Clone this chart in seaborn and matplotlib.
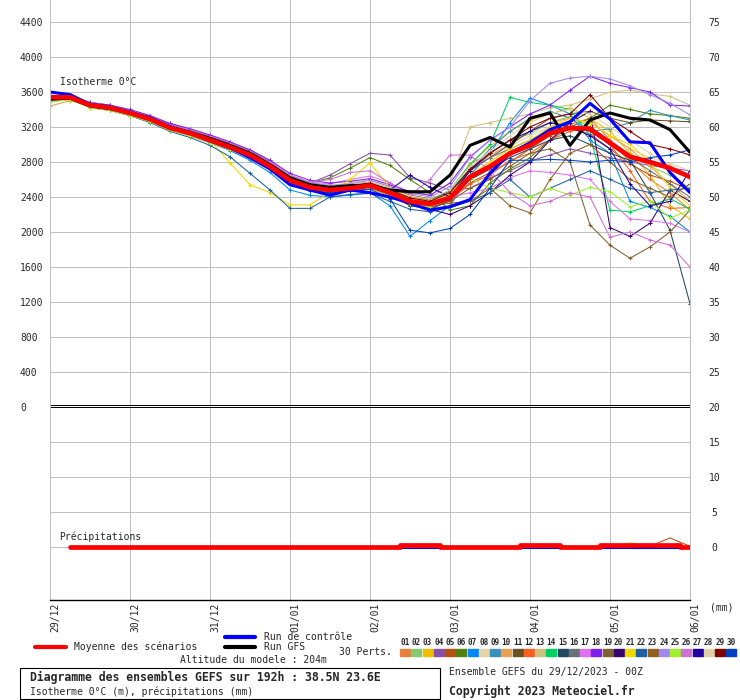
import pandas as pd
import seaborn as sns
import matplotlib.pyplot as plt
from matplotlib.lines import Line2D
from matplotlib.patches import Rectangle

# time axis: every 6h over 192h
hours = [0, 6, 12, 18, 24, 30, 36, 42, 48, 54, 60, 66, 72, 78, 84, 90, 96,
         102, 108, 114, 120, 126, 132, 138, 144, 150, 156, 162, 168, 174,
         180, 186, 192]
day_ticks = [0, 24, 48, 72, 96, 120, 144, 168, 192]
day_labels = ['29/12', '30/12', '31/12', '01/01', '02/01', '03/01', '04/01', '05/01', '06/01']

# isotherme 0°C (m)
mean_iso = [3540, 3540, 3450, 3420, 3360, 3290, 3190, 3130, 3050, 2970, 2880,
            2750, 2590, 2510, 2480, 2500, 2530, 2450, 2350, 2320, 2390, 2630,
            2750, 2900, 2990, 3130, 3190, 3180, 3020, 2860, 2800, 2730, 2630]
ctrl_iso = [3600, 3570, 3460, 3430, 3370, 3300, 3200, 3130, 3040, 2960, 2850,
            2720, 2540, 2480, 2420, 2480, 2450, 2400, 2330, 2250, 2290, 2370,
            2670, 2900, 3020, 3170, 3260, 3470, 3290, 3030, 3020, 2680, 2450]
gfs_iso = [3520, 3530, 3440, 3410, 3360, 3300, 3200, 3140, 3070, 2990, 2900,
           2770, 2620, 2540, 2510, 2530, 2530, 2480, 2460, 2460, 2650, 2990,
           3080, 2970, 3300, 3360, 2990, 3280, 3360, 3300, 3280, 3170, 2910]

p01 = [3520, 3540, 3440, 3400, 3350, 3280, 3170, 3120, 3040, 2960, 2860, 2720, 2560, 2480, 2450, 2470, 2500, 2420, 2300, 2280, 2350, 2600, 2720, 2880, 3000, 3150, 3230, 3300, 3050, 2800, 2600, 2450, 2250]
p02 = [3510, 3530, 3460, 3420, 3370, 3300, 3210, 3150, 3080, 2990, 2900, 2780, 2620, 2530, 2520, 2530, 2560, 2500, 2380, 2340, 2460, 2780, 2900, 3050, 3120, 3250, 3320, 3200, 3000, 2900, 2750, 2650, 2500]
p03 = [3540, 3550, 3470, 3430, 3380, 3310, 3210, 3140, 3060, 2980, 2890, 2770, 2610, 2540, 2500, 2520, 2560, 2490, 2410, 2360, 2470, 2780, 2980, 3150, 3280, 3350, 3420, 3300, 3150, 2900, 2650, 2300, 2150]
p04 = [3550, 3560, 3480, 3450, 3380, 3320, 3230, 3160, 3090, 3010, 2930, 2800, 2640, 2560, 2650, 2780, 2900, 2880, 2620, 2560, 2480, 2500, 2620, 2700, 2810, 2880, 2950, 2900, 2850, 2800, 2760, 2730, 2700]
p05 = [3500, 3530, 3420, 3390, 3330, 3260, 3170, 3100, 3020, 2950, 2860, 2730, 2580, 2500, 2460, 2490, 2510, 2430, 2330, 2310, 2380, 2560, 2680, 2800, 2950, 3100, 3180, 3120, 2950, 2780, 2650, 2580, 2480]
p06 = [3530, 3540, 3450, 3420, 3370, 3300, 3210, 3150, 3070, 3000, 2920, 2800, 2650, 2560, 2620, 2730, 2850, 2760, 2600, 2450, 2250, 2300, 2560, 2720, 2850, 3050, 3200, 3300, 3450, 3400, 3350, 3330, 3300]
p07 = [3600, 3560, 3470, 3430, 3370, 3290, 3180, 3110, 3020, 2930, 2820, 2680, 2480, 2420, 2400, 2420, 2450, 2300, 1950, 2130, 2300, 2650, 2900, 3250, 3530, 3450, 3350, 3050, 2900, 2350, 2280, 2180, 2000]
p08 = [3480, 3510, 3430, 3400, 3340, 3280, 3180, 3120, 3040, 2960, 2870, 2740, 2580, 2500, 2470, 2490, 2520, 2460, 2360, 2330, 2420, 2650, 2800, 2980, 3100, 3200, 3280, 3250, 3100, 2950, 2850, 2780, 2700]
p09 = [3560, 3560, 3470, 3430, 3370, 3300, 3200, 3140, 3060, 2980, 2890, 2760, 2590, 2520, 2490, 2510, 2540, 2440, 2320, 2250, 2380, 2700, 2950, 3150, 3300, 3380, 3300, 3150, 3180, 3250, 3390, 3330, 3280]
p10 = [3440, 3500, 3450, 3410, 3350, 3280, 3180, 3120, 3040, 2970, 2880, 2750, 2600, 2520, 2490, 2510, 2540, 2470, 2380, 2330, 2430, 2700, 2880, 3000, 3150, 3250, 3300, 3250, 3100, 2950, 2750, 2550, 2350]
p11 = [3540, 3550, 3460, 3430, 3380, 3310, 3220, 3160, 3090, 3010, 2930, 2800, 2640, 2560, 2520, 2540, 2570, 2500, 2420, 2380, 2450, 2700, 2850, 3000, 3150, 3300, 3350, 3380, 3300, 3250, 3280, 3270, 3260]
p12 = [3510, 3520, 3430, 3400, 3340, 3270, 3170, 3110, 3030, 2950, 2850, 2720, 2560, 2480, 2450, 2480, 2500, 2410, 2310, 2280, 2360, 2550, 2650, 2820, 2900, 3050, 3150, 3200, 3000, 2700, 2350, 2270, 2280]
p13 = [3490, 3520, 3440, 3410, 3350, 3290, 3200, 3140, 3060, 2990, 2900, 2780, 2640, 2560, 2530, 2560, 2600, 2520, 2450, 2420, 2560, 3200, 3250, 3300, 3350, 3420, 3450, 3520, 3600, 3620, 3580, 3550, 3450]
p14 = [3520, 3530, 3440, 3400, 3340, 3270, 3180, 3120, 3040, 2970, 2880, 2760, 2620, 2560, 2530, 2540, 2560, 2470, 2370, 2340, 2480, 2770, 3000, 3540, 3480, 3450, 3400, 3100, 2250, 2230, 2300, 2380, 2260]
p15 = [3530, 3540, 3450, 3420, 3360, 3290, 3190, 3130, 3040, 2960, 2860, 2740, 2570, 2490, 2470, 2490, 2520, 2440, 2300, 2260, 2360, 2600, 2720, 2850, 2950, 3050, 3100, 3000, 2900, 2820, 2450, 2020, 1180]
p16 = [3500, 3520, 3440, 3410, 3350, 3290, 3200, 3140, 3070, 2990, 2900, 2770, 2620, 2540, 2500, 2520, 2560, 2490, 2400, 2370, 2470, 2720, 2850, 2950, 3050, 3150, 3200, 3150, 3000, 2850, 2700, 2550, 2400]
p17 = [3550, 3550, 3470, 3440, 3390, 3330, 3240, 3180, 3100, 3020, 2930, 2810, 2650, 2570, 2550, 2600, 2640, 2560, 2450, 2270, 2400, 2450, 2500, 2620, 2700, 2680, 2650, 2600, 2350, 2150, 2130, 2100, 2000]
p18 = [3550, 3560, 3480, 3450, 3400, 3330, 3240, 3180, 3110, 3030, 2940, 2820, 2670, 2590, 2560, 2580, 2610, 2540, 2460, 2420, 2560, 2860, 3050, 3200, 3350, 3450, 3620, 3780, 3700, 3650, 3600, 3450, 3440]
p19 = [3510, 3520, 3430, 3400, 3340, 3270, 3170, 3110, 3030, 2950, 2860, 2730, 2570, 2490, 2460, 2480, 2510, 2430, 2340, 2310, 2350, 2500, 2600, 2750, 2900, 2950, 2800, 2080, 1850, 1700, 1830, 2000, 2250]
p20 = [3530, 3540, 3450, 3420, 3360, 3300, 3200, 3130, 3060, 2980, 2890, 2760, 2600, 2520, 2490, 2500, 2530, 2440, 2330, 2260, 2200, 2300, 2450, 2650, 2800, 3050, 3250, 3380, 2050, 1950, 2100, 2480, 2350]
p21 = [3510, 3520, 3430, 3400, 3340, 3280, 3190, 3130, 3050, 2790, 2540, 2450, 2310, 2310, 2450, 2600, 2790, 2500, 2400, 2350, 2450, 2650, 2800, 2950, 3050, 3200, 3300, 3250, 3100, 3000, 2800, 2500, 2300]
p22 = [3500, 3520, 3430, 3390, 3330, 3250, 3150, 3080, 2990, 2860, 2670, 2480, 2270, 2270, 2400, 2430, 2440, 2350, 2260, 2230, 2280, 2350, 2450, 2600, 2400, 2500, 2600, 2700, 2600, 2500, 2450, 2480, 2500]
p23 = [3520, 3530, 3440, 3410, 3350, 3280, 3180, 3120, 3040, 2960, 2870, 2740, 2580, 2500, 2470, 2490, 2520, 2440, 2340, 2290, 2330, 2350, 2500, 2300, 2220, 2600, 2900, 3000, 2800, 2600, 2500, 2400, 2550]
p24 = [3550, 3560, 3480, 3440, 3380, 3310, 3220, 3160, 3080, 3000, 2910, 2790, 2640, 2560, 2530, 2550, 2590, 2520, 2440, 2400, 2520, 2850, 3050, 3200, 3500, 3700, 3760, 3780, 3750, 3670, 3570, 3470, 3340]
p25 = [3490, 3510, 3420, 3390, 3330, 3260, 3160, 3100, 3020, 2940, 2850, 2720, 2570, 2490, 2460, 2480, 2500, 2420, 2320, 2290, 2420, 2620, 2500, 2450, 2400, 2500, 2420, 2510, 2460, 2290, 2350, 2160, 2250]
p26 = [3540, 3550, 3460, 3430, 3370, 3310, 3210, 3150, 3080, 3000, 2910, 2790, 2640, 2570, 2600, 2680, 2700, 2560, 2420, 2600, 2880, 2880, 2700, 2450, 2300, 2350, 2450, 2400, 1940, 2000, 1910, 1850, 1600]
p27 = [3540, 3540, 3450, 3420, 3360, 3290, 3190, 3130, 3050, 2970, 2880, 2760, 2600, 2530, 2500, 2510, 2530, 2480, 2650, 2510, 2400, 2700, 2900, 3050, 3150, 3250, 3200, 3100, 2950, 2550, 2300, 2350, 2700]
p28 = [3520, 3530, 3450, 3420, 3360, 3300, 3200, 3140, 3070, 2990, 2900, 2780, 2630, 2550, 2520, 2540, 2570, 2500, 2410, 2380, 2480, 2750, 2920, 3100, 3250, 3350, 3400, 3350, 3200, 3050, 2900, 2750, 2600]
p29 = [3530, 3540, 3460, 3430, 3370, 3300, 3200, 3140, 3060, 2980, 2890, 2770, 2620, 2540, 2510, 2530, 2560, 2480, 2390, 2350, 2450, 2720, 2900, 3050, 3200, 3300, 3350, 3570, 3300, 3150, 3000, 2950, 2880]
p30 = [3560, 3560, 3470, 3440, 3380, 3310, 3210, 3140, 3060, 2980, 2880, 2740, 2560, 2470, 2450, 2470, 2490, 2380, 2020, 1990, 2040, 2200, 2500, 2820, 2820, 2830, 2820, 2800, 2820, 2800, 2850, 2880, 2940]

pert_names = ['01', '02', '03', '04', '05', '06', '07', '08', '09', '10',
              '11', '12', '13', '14', '15', '16', '17', '18', '19', '20',
              '21', '22', '23', '24', '25', '26', '27', '28', '29', '30']
pert_colors = ['#E8803A', '#88C870', '#F0C000', '#8850A8', '#B85010', '#508010',
               '#0088F8', '#E8D0A8', '#3890B8', '#E8A050', '#685020', '#F86020',
               '#D0C080', '#00D060', '#204860', '#687078', '#E070F0', '#8020F0',
               '#806030', '#380070', '#F0D800', '#2060A0', '#906020', '#A088F0',
               '#A0F030', '#D070D0', '#2000A0', '#E0D0A8', '#800000', '#0040C0']

# precipitations (mm), from +6h
precip_hours = hours[1:]
precip_mean = [0, 0, 0, 0, 0, 0, 0, 0, 0, 0, 0, 0, 0, 0, 0, 0,
               0, 0.3, 0.3, 0, 0, 0, 0, 0.3, 0.3, 0, 0, 0.3, 0.3, 0.3, 0.3, 0]
precip_ctrl = [0, 0, 0, 0, 0, 0, 0, 0, 0, 0, 0, 0, 0, 0, 0, 0,
               0, 0, 0, 0, 0, 0, 0, 0, 0, 0, 0, 0, 0, 0, 0, 0]
precip_p05 = [0, 0, 0, 0, 0, 0, 0, 0, 0, 0, 0, 0, 0, 0, 0, 0,
              0, 0, 0, 0, 0, 0, 0, 0, 0, 0, 0, 0, 0, 0.1, 1.3, 0.1]
precip_p25 = [0, 0, 0, 0, 0, 0, 0, 0, 0, 0, 0, 0, 0, 0, 0, 0,
              0, 0, 0, 0, 0, 0, 0, 0, 0, 0, 0, 0.1, 0.6, 0.1, 0, 0]

sns.set_style('white')
plt.rcParams['font.family'] = ['DejaVu Sans Mono']
plt.rcParams['font.size'] = 7

W, H = 740, 700
def fx(px):
    return px / W
def fy(py):
    return 1 - py / H

fig = plt.figure(figsize=(7.4, 7.0), dpi=100)
ax = fig.add_axes([fx(50), fy(600), 640 / W, 600 / H])

members = [p01, p02, p03, p04, p05, p06, p07, p08, p09, p10, p11, p12, p13, p14, p15,
           p16, p17, p18, p19, p20, p21, p22, p23, p24, p25, p26, p27, p28, p29, p30]
rows = []
for name, vals in zip(pert_names, members):
    for h, v in zip(hours, vals):
        rows.append((h, v, name))
df = pd.DataFrame(rows, columns=['hour', 'iso', 'member'])

sns.lineplot(data=df, x='hour', y='iso', hue='member', estimator=None,
             palette=dict(zip(pert_names, pert_colors)), lw=0.75,
             marker='+', markersize=3, markeredgewidth=0.75, legend=False, ax=ax)
for ln in ax.lines:
    ln.set_markeredgecolor(ln.get_color())

sns.lineplot(x=hours, y=gfs_iso, color='black', lw=2.2, ax=ax)
sns.lineplot(x=hours, y=ctrl_iso, color='#0000FF', lw=2.2, ax=ax)
sns.lineplot(x=hours, y=mean_iso, color='#FF0000', lw=3.4, ax=ax)

# double black line at 0 m
ax.axhline(0, color='black', lw=0.72)
ax.axhline(22, color='black', lw=0.72)

ax.set_xlim(0, 192)
ax.set_ylim(-193 * 400 / 35, 407 * 400 / 35)
ax.set_xticks(day_ticks)
ax.set_xticklabels(day_labels, rotation=90)
ax.set_yticks(range(0, 4401, 400))
ax.set_yticks([-1600, -1200, -800, -400], minor=True)
ax.grid(axis='y', which='both', color='#C0C0C0', lw=0.72)
ax.grid(axis='x', color='#C0C0C0', lw=0.72)
ax.set_axisbelow(True)
ax.tick_params(axis='y', which='both', length=0, pad=21.6, labelsize=7)
ax.tick_params(axis='x', length=0, pad=2, labelsize=7)
ax.set(xlabel='', ylabel='')
ax.spines['top'].set_visible(False)
ax.spines['left'].set_color('#C0C0C0')
ax.spines['left'].set_linewidth(0.72)
ax.spines['right'].set_color('#C0C0C0')
ax.spines['right'].set_linewidth(0.72)
ax.spines['bottom'].set_color('black')
ax.spines['bottom'].set_linewidth(1)

# precipitation on right scale
ax2 = ax.twinx()
sns.lineplot(x=precip_hours, y=precip_ctrl, color='#0000FF', lw=2.2, ax=ax2)
sns.lineplot(x=precip_hours, y=precip_p05, color='#B85010', lw=0.75, ax=ax2)
sns.lineplot(x=precip_hours, y=precip_p25, color='#A0F030', lw=0.75, ax=ax2)
sns.lineplot(x=precip_hours, y=precip_mean, color='#FF0000', lw=3.4,
             drawstyle='steps-mid', ax=ax2)
ax2.set_ylim(-53 / 7, 547 / 7)
ax2.set_yticks(range(0, 76, 5))
ax2.tick_params(axis='y', length=0, pad=17.6, labelsize=7)
ax2.set(xlabel='', ylabel='')
ax2.grid(False)
for s in ax2.spines.values():
    s.set_visible(False)

plt.setp(ax.get_yticklabels(), ha='left')
plt.setp(ax2.get_yticklabels(), ha='center')
plt.setp(ax.get_xticklabels(), ha='left', va='top')

# labels inside plot
fig.text(fx(60), fy(82), 'Isotherme 0°C', va='center', fontsize=7)
fig.text(fx(59), fy(537), 'Précipitations', va='center', fontsize=7)
fig.text(fx(710), fy(607), '(mm)', va='center', fontsize=7)

# legend
fig.add_artist(Line2D([fx(35), fx(66)], [fy(647), fy(647)], color='#FF0000', lw=3))
fig.add_artist(Line2D([fx(225), fx(255)], [fy(636.5), fy(636.5)], color='#0000FF', lw=3))
fig.add_artist(Line2D([fx(225), fx(255)], [fy(646.5), fy(646.5)], color='black', lw=3))
fig.text(fx(74), fy(647), 'Moyenne des scénarios', va='center', fontsize=7)
fig.text(fx(264), fy(637), 'Run de contrôle', va='center', fontsize=7)
fig.text(fx(264), fy(647), 'Run GFS', va='center', fontsize=7)
fig.text(fx(339), fy(652), '30 Perts.', va='center', fontsize=7)
fig.text(fx(180), fy(660), 'Altitude du modele : 204m', va='center', fontsize=7)

for k, (name, col) in enumerate(zip(pert_names, pert_colors)):
    x0 = 400 + k * 11.25
    fig.add_artist(Rectangle((fx(x0), fy(656)), 10 / W, 7 / H, color=col,
                             transform=fig.transFigure))
    fig.text(fx(x0 + 5), fy(642.5), name, ha='center', va='center',
             fontsize=5.5, fontweight='bold')

# title box
fig.add_artist(Rectangle((fx(20), fy(699)), 420 / W, 31 / H, fill=False,
                         edgecolor='black', lw=0.8, transform=fig.transFigure))
fig.text(fx(30), fy(677), 'Diagramme des ensembles GEFS sur 192h : 38.5N 23.6E',
         va='center', fontsize=8.3, fontweight='bold')
fig.text(fx(30), fy(691.5), 'Isotherme 0°C (m), précipitations (mm)',
         va='center', fontsize=7)
fig.text(fx(449), fy(672), 'Ensemble GEFS du 29/12/2023 - 00Z', va='center', fontsize=7)
fig.text(fx(449), fy(691.5), 'Copyright 2023 Meteociel.fr', va='center',
         fontsize=8.3, fontweight='bold')

fig.savefig('out.png', dpi=100)
